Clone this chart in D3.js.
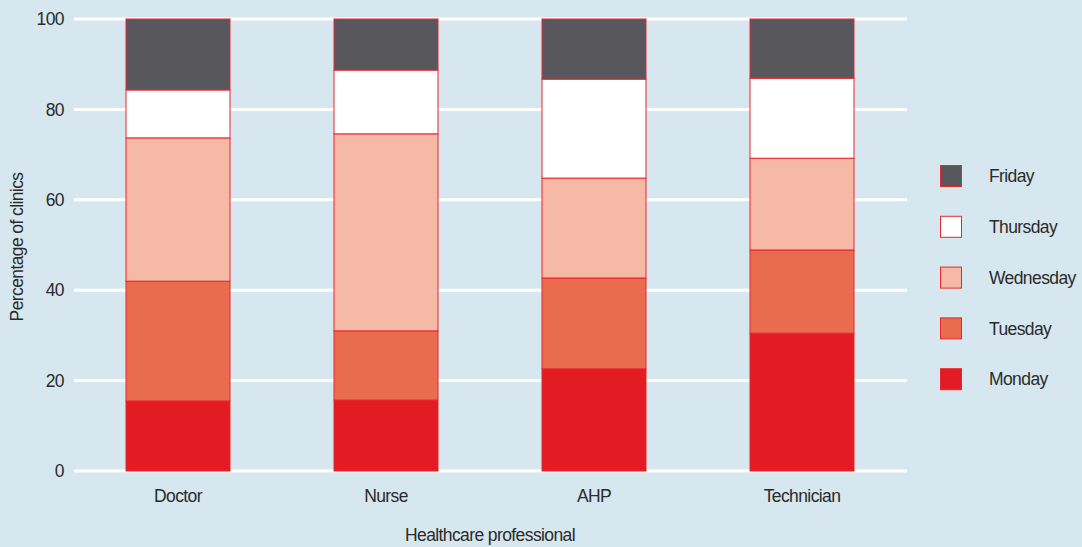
<!DOCTYPE html>
<html><head><meta charset="utf-8">
<script src="https://cdn.jsdelivr.net/npm/d3@7"></script>
<style>
html,body{margin:0;padding:0;background:#d6e7ef;}
text{font-family:"Liberation Sans",Arial,sans-serif;fill:#2b2b2b;letter-spacing:-0.6px;}
</style></head>
<body>
<svg id="c" width="1082" height="547"></svg>
<script>
const categories = ["Doctor","Nurse","AHP","Technician"];
const days = ["Monday","Tuesday","Wednesday","Thursday","Friday"];
const monday    = [15.5, 15.7, 22.6, 30.5];
const tuesday   = [26.5, 15.3, 20.1, 18.4];
const wednesday = [31.7, 43.6, 22.1, 20.3];
const thursday  = [10.6, 14.1, 21.9, 17.7];
const friday    = [15.7, 11.3, 13.3, 13.1];
const yTicks = [0,20,40,60,80,100];
const colors = ["#e31b23","#ea6c4f","#f5b9a5","#ffffff","#58585c"];

const series = [monday,tuesday,wednesday,thursday,friday];
const rows = categories.map((c,i)=>{const r={cat:c}; days.forEach((d,j)=>r[d]=series[j][i]); return r;});
const stack = d3.stack().keys(days)(rows);

const svg = d3.select("#c");
svg.append("rect").attr("width",1082).attr("height",547).attr("fill","#d6e7ef");
const mLeft=74, mRight=907, mTop=19, mBottom=471;
const x = d3.scaleBand().domain(categories).range([74,906]).paddingInner(0.5).paddingOuter(0.25);
const y = d3.scaleLinear().domain([0,100]).range([mBottom,mTop]);
const fs = 17.5;

// grid
svg.append("g").selectAll("line").data(yTicks).join("line")
  .attr("x1",mLeft).attr("x2",mRight).attr("y1",d=>y(d)).attr("y2",d=>y(d))
  .attr("stroke","#ffffff").attr("stroke-width",3);

// y labels
svg.append("g").selectAll("text").data(yTicks).join("text")
  .attr("x",64).attr("y",d=>y(d)).attr("dy","0.35em").attr("text-anchor","end")
  .attr("font-size",fs).text(d=>d);

// bars
svg.append("g").selectAll("g").data(stack).join("g")
  .attr("fill",(d,i)=>colors[i])
  .selectAll("rect").data(d=>d).join("rect")
  .attr("x",d=>x(d.data.cat)).attr("width",x.bandwidth())
  .attr("y",d=>y(d[1])).attr("height",d=>y(d[0])-y(d[1]))
  .attr("stroke","#e8262e").attr("stroke-width",1);

// x labels
svg.append("g").selectAll("text").data(categories).join("text")
  .attr("x",d=>x(d)+x.bandwidth()/2).attr("y",496).attr("dy","0.35em")
  .attr("text-anchor","middle").attr("font-size",fs).text(d=>d);

svg.append("text").attr("x",490).attr("y",535).attr("dy","0.35em").attr("text-anchor","middle")
  .attr("font-size",fs).text("Healthcare professional");
svg.append("text").attr("transform","translate(17,247) rotate(-90)").attr("dy","0.35em")
  .attr("text-anchor","middle").attr("font-size",fs).text("Percentage of clinics");

// legend
const legendDays = days.slice().reverse();
const lg = svg.append("g").selectAll("g").data(legendDays).join("g")
  .attr("transform",(d,i)=>`translate(940,${165+i*50.8})`);
lg.append("rect").attr("x",0.5).attr("y",0.5).attr("width",21).attr("height",21)
  .attr("fill",d=>colors[days.indexOf(d)]).attr("stroke","#e8262e").attr("stroke-width",1);
lg.append("text").attr("x",49).attr("y",11).attr("dy","0.35em").attr("font-size",fs).text(d=>d);
</script>
</body></html>
